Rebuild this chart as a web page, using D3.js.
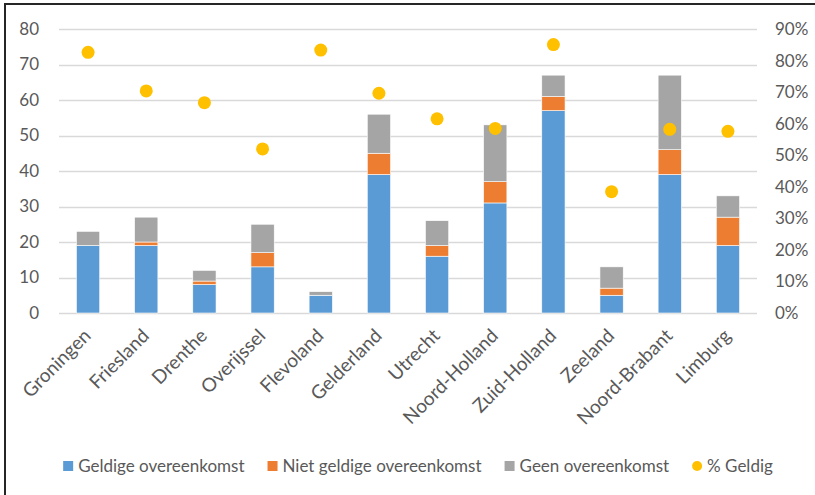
<!DOCTYPE html>
<html>
<head>
<meta charset="utf-8">
<script src="https://cdn.jsdelivr.net/npm/d3@7"></script>
<style>
  html, body { margin: 0; padding: 0; background: #fff; }
  svg { display: block; }
  text { font-family: Lato, "Liberation Sans", Arial, sans-serif; fill: #595959; }
</style>
</head>
<body>
<svg id="chart" width="815" height="495"></svg>
<script>
const provinces = ["Groningen", "Friesland", "Drenthe", "Overijssel", "Flevoland", "Gelderland",
  "Utrecht", "Noord-Holland", "Zuid-Holland", "Zeeland", "Noord-Brabant", "Limburg"];
const geldig    = [19, 19, 8, 13, 5, 39, 16, 31, 57, 5, 39, 19];
const nietGeldig = [0, 1, 1, 4, 0, 6, 3, 6, 4, 2, 7, 8];
const geen      = [4, 7, 3, 8, 1, 11, 7, 16, 6, 6, 21, 6];
const seriesNames = ["Geldige overeenkomst", "Niet geldige overeenkomst", "Geen overeenkomst", "% Geldig"];
const leftTicks = [0, 10, 20, 30, 40, 50, 60, 70, 80];
const rightTicks = [0, 0.1, 0.2, 0.3, 0.4, 0.5, 0.6, 0.7, 0.8, 0.9];

const colors = ["#5B9BD5", "#ED7D31", "#A5A5A5", "#FFC000"];

const rows = provinces.map((p, i) => ({
  province: p,
  geldig: geldig[i],
  niet: nietGeldig[i],
  geen: geen[i],
  pct: geldig[i] / (geldig[i] + nietGeldig[i] + geen[i])
}));

const svg = d3.select("#chart");
const plotLeft = 59, plotRight = 757, plotTop = 29, plotBottom = 313;

const x = d3.scaleBand().domain(provinces).range([plotLeft, plotRight]).padding(0);
const y = d3.scaleLinear().domain([0, 80]).range([plotBottom, plotTop]);
const y2 = d3.scaleLinear().domain([0, 0.9]).range([plotBottom, plotTop]);
const barW = x.bandwidth() * 0.4;

// frame
svg.append("path").attr("d", "M5,495 V4 H815")
  .attr("fill", "none").attr("stroke", "#262626").attr("stroke-width", 2);

// gridlines
svg.append("g").selectAll("line").data(leftTicks).join("line")
  .attr("x1", plotLeft).attr("x2", plotRight)
  .attr("y1", d => Math.round(y(d)) + 0.5).attr("y2", d => Math.round(y(d)) + 0.5)
  .attr("stroke", "#D9D9D9").attr("stroke-width", 1.5);

// left axis
const axL = svg.append("g").attr("transform", `translate(${plotLeft - 20},0)`)
  .call(d3.axisLeft(y).tickValues(leftTicks).tickSize(0).tickPadding(0));
axL.select(".domain").remove();
axL.selectAll("text").attr("font-size", 17).attr("fill", "#595959");

// right axis
const axR = svg.append("g").attr("transform", `translate(${plotRight + 18},0)`)
  .call(d3.axisRight(y2).tickValues(rightTicks).tickSize(0).tickPadding(0).tickFormat(d3.format(".0%")));
axR.select(".domain").remove();
axR.selectAll("text").attr("font-size", 17).attr("fill", "#595959");
svg.selectAll(".tick text").style("font-family", "Lato, 'Liberation Sans', Arial, sans-serif");

// stacked bars
const stack = d3.stack().keys(["geldig", "niet", "geen"]);
const layers = stack(rows);
svg.append("g").selectAll("g").data(layers).join("g")
  .attr("fill", (d, i) => colors[i])
  .selectAll("rect").data(d => d).join("rect")
  .attr("x", d => x(d.data.province) + (x.bandwidth() - barW) / 2)
  .attr("width", barW)
  .attr("y", d => y(d[1]))
  .attr("height", d => Math.max(0, y(d[0]) - y(d[1])))
  .attr("stroke", "#ffffff").attr("stroke-width", 0.6);

// percentage markers
svg.append("g").selectAll("circle").data(rows).join("circle")
  .attr("cx", d => x(d.province) + x.bandwidth() / 2)
  .attr("cy", d => y2(d.pct))
  .attr("r", 6.5)
  .attr("fill", colors[3]);

// category labels
svg.append("g").selectAll("text").data(provinces).join("text")
  .attr("transform", d => `translate(${x(d) + x.bandwidth() / 2 + 4},${plotBottom + 24}) rotate(-45)`)
  .attr("text-anchor", "end")
  .attr("font-size", 19)
  .text(d => d);

// legend
const legend = svg.append("g");
const items = legend.selectAll("g").data(seriesNames).join("g");
items.append("text").attr("font-size", 17).attr("dy", "0.35em").attr("y", 466).text(d => d);
const widths = [];
items.each(function () { widths.push(this.querySelector("text").getComputedTextLength()); });
const totalW = widths.reduce((a, w) => a + 15 + w, 0) + 23 * (widths.length - 1);
let cursor = 418 - totalW / 2;
items.each(function (d, i) {
  const g = d3.select(this);
  if (i < 3) {
    g.insert("rect", "text").attr("x", cursor).attr("y", 461).attr("width", 10).attr("height", 10).attr("fill", colors[i]);
  } else {
    g.insert("circle", "text").attr("cx", cursor + 5).attr("cy", 466).attr("r", 5).attr("fill", colors[i]);
  }
  g.select("text").attr("x", cursor + 15);
  cursor += 15 + widths[i] + 23;
});
</script>
</body>
</html>
